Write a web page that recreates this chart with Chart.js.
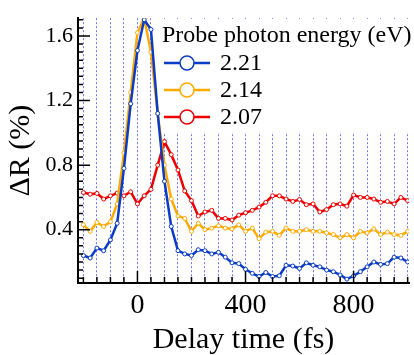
<!DOCTYPE html>
<html>
<head>
<meta charset="utf-8">
<script src="https://cdn.jsdelivr.net/npm/chart.js@4.4.1/dist/chart.umd.min.js"></script>
<style>
  html, body { margin: 0; padding: 0; background: #fff; }
  #wrap { width: 414px; height: 355px; position: relative; }
</style>
</head>
<body>
<div id="wrap"><canvas id="reflChart"></canvas></div>
<script>
// delay times (fs)
var delays = [-200, -175, -150, -125, -100, -75, -50, -25, 0, 25, 50, 75, 100, 125, 150, 175,
    200, 225, 250, 275, 300, 325, 350, 375, 400, 425, 450, 475, 500, 525, 550, 575,
    600, 625, 650, 675, 700, 725, 750, 775, 800, 825, 850, 875, 900, 925, 950, 975, 1000];

// dR (%) for each probe photon energy
var dR221 = [0.24, 0.225, 0.286, 0.27, 0.337, 0.44, 0.78, 1.18, 1.51, 1.70, 1.64, 1.12, 0.70, 0.42, 0.27, 0.25,
    0.24, 0.276, 0.27, 0.25, 0.26, 0.23, 0.195, 0.19, 0.155, 0.13, 0.11, 0.135, 0.11, 0.115, 0.18, 0.175,
    0.16, 0.195, 0.18, 0.17, 0.15, 0.14, 0.12, 0.094, 0.114, 0.14, 0.17, 0.20, 0.185, 0.19, 0.23, 0.225, 0.20];
var dR214 = [0.43, 0.39, 0.445, 0.42, 0.45, 0.56, 0.875, 1.25, 1.62, 1.71, 1.50, 1.12, 0.80, 0.59, 0.485, 0.47,
    0.39, 0.44, 0.40, 0.41, 0.425, 0.41, 0.405, 0.43, 0.39, 0.41, 0.345, 0.385, 0.39, 0.365, 0.41, 0.39,
    0.39, 0.40, 0.39, 0.39, 0.38, 0.37, 0.35, 0.37, 0.35, 0.39, 0.38, 0.405, 0.37, 0.385, 0.37, 0.365, 0.39];
var dR207 = [0.63, 0.62, 0.625, 0.59, 0.61, 0.627, 0.61, 0.635, 0.56, 0.61, 0.65, 0.80, 0.946, 0.865, 0.77, 0.64,
    0.58, 0.485, 0.51, 0.52, 0.47, 0.47, 0.46, 0.49, 0.505, 0.52, 0.54, 0.57, 0.61, 0.61, 0.59, 0.575,
    0.587, 0.555, 0.56, 0.51, 0.525, 0.555, 0.56, 0.546, 0.615, 0.60, 0.60, 0.59, 0.57, 0.575, 0.56, 0.60, 0.58];

var energies = ['2.21', '2.14', '2.07'];
var colors = ['#0a3cc8', '#ffaa00', '#f00000'];
var legendTitle = 'Probe photon energy (eV)';

var serif = '"Liberation Serif", "Times New Roman", serif';

function toPoints(ys) {
    return delays.map(function (d, i) { return { x: d, y: ys[i] }; });
}

function makeSet(label, ys, color) {
    return {
        label: label,
        data: toPoints(ys),
        borderColor: color,
        borderWidth: 2.5,
        pointRadius: 2,
        pointBorderWidth: 1,
        pointBackgroundColor: '#fff',
        pointBorderColor: color,
        tension: 0
    };
}

// legend box drawn inside the plot, over the grid lines
var boxLegend = {
    id: 'boxLegend',
    beforeDatasetsDraw: function (chart) {
        var c = chart.ctx;
        c.save();
        c.fillStyle = '#fff';
        c.fillRect(157, 19, 257, 113);
        c.fillStyle = '#000';
        c.textBaseline = 'middle';
        c.font = '24px ' + serif;
        c.fillText(legendTitle, 162, 36);
        chart.data.datasets.forEach(function (ds, i) {
            var y = 63 + i * 27;
            c.strokeStyle = ds.borderColor;
            c.lineWidth = 2.5;
            c.beginPath();
            c.moveTo(164, y);
            c.lineTo(210, y);
            c.stroke();
            c.beginPath();
            c.arc(187, y, 7, 0, Math.PI * 2);
            c.fillStyle = '#fff';
            c.fill();
            c.lineWidth = 1.5;
            c.stroke();
            c.fillStyle = '#000';
            c.fillText(ds.label, 220, y + 1);
        });
        c.restore();
    }
};

// tick marks point into the plot
var insideTicks = {
    id: 'insideTicks',
    afterDraw: function (chart) {
        var c = chart.ctx;
        var a = chart.chartArea;
        var xs = chart.scales.x;
        var ys = chart.scales.y;
        c.save();
        c.strokeStyle = '#000';
        c.lineWidth = 1.5;
        c.beginPath();
        xs.ticks.forEach(function (t) {
            var px = xs.getPixelForValue(t.value);
            var len = (t.value % 400 === 0) ? 12 : 6;
            c.moveTo(px, a.bottom);
            c.lineTo(px, a.bottom - len);
        });
        ys.ticks.forEach(function (t) {
            var py = ys.getPixelForValue(t.value);
            var r = t.value / 0.4;
            var len = Math.abs(r - Math.round(r)) < 1e-6 ? 12 : 5;
            c.moveTo(a.left, py);
            c.lineTo(a.left + len, py);
        });
        c.stroke();
        c.restore();
    }
};

var ctx = document.getElementById('reflChart').getContext('2d');
var reflChart = new Chart(ctx, {
    type: 'line',
    data: {
        datasets: [
            makeSet(energies[0], dR221, colors[0]),
            makeSet(energies[1], dR214, colors[1]),
            makeSet(energies[2], dR207, colors[2])
        ]
    },
    options: {
        responsive: true,
        maintainAspectRatio: false,
        animation: false,
        layout: { padding: { top: 12, right: 5, left: 0, bottom: 0 } },
        plugins: {
            legend: { display: false },
            tooltip: { enabled: false }
        },
        scales: {
            x: {
                type: 'linear',
                min: -220,
                max: 1005,
                afterFit: function (scale) { scale.height = 72; },
                grid: {
                    color: 'rgba(90, 90, 255, 0.85)',
                    lineWidth: 1,
                    drawTicks: false
                },
                border: { display: true, color: '#000', width: 2, dash: [2, 2] },
                ticks: {
                    stepSize: 50,
                    includeBounds: false,
                    autoSkip: false,
                    maxRotation: 0,
                    padding: 6,
                    color: '#000',
                    font: { family: serif, size: 28 },
                    callback: function (v) { return v % 400 === 0 ? String(v) : ''; }
                },
                title: {
                    display: true,
                    text: 'Delay time (fs)',
                    color: '#000',
                    font: { family: serif, size: 30, lineHeight: 1 },
                    padding: { top: 0, bottom: 0 }
                }
            },
            y: {
                min: 0.07,
                max: 1.71,
                afterFit: function (scale) { scale.width = 78; },
                grid: { display: false, drawTicks: false },
                border: { display: true, color: '#000', width: 2 },
                ticks: {
                    stepSize: 0.05,
                    includeBounds: false,
                    autoSkip: false,
                    padding: 5,
                    color: '#000',
                    font: { family: serif, size: 22 },
                    callback: function (v) {
                        var r = v / 0.4;
                        return Math.abs(r - Math.round(r)) < 1e-6 ? v.toFixed(1) : '';
                    }
                },
                title: {
                    display: true,
                    text: 'ΔR (%)',
                    color: '#000',
                    font: { family: serif, size: 30 },
                    padding: { top: 3, bottom: 0 }
                }
            }
        }
    },
    plugins: [boxLegend, insideTicks]
});
</script>
</body>
</html>
